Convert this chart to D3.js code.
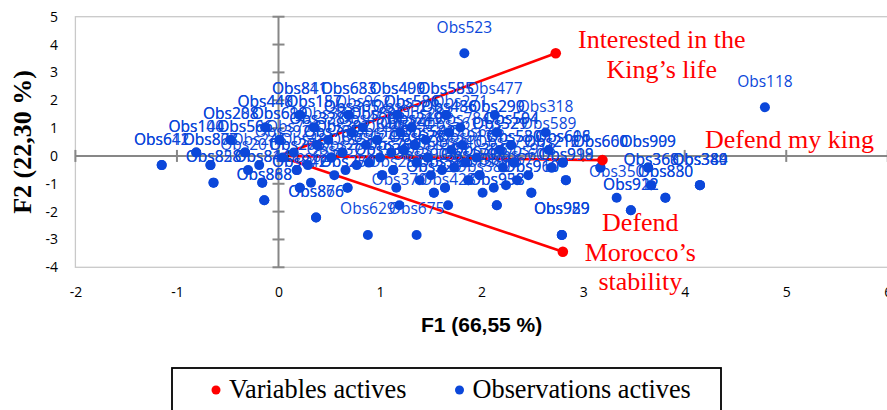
<!DOCTYPE html>
<html><head><meta charset="utf-8">
<script src="https://cdn.jsdelivr.net/npm/d3@7/dist/d3.min.js"></script>
<style>html,body{margin:0;padding:0;background:#fff;}svg{display:block;}</style>
</head><body>
<svg id="chart" width="887" height="410"></svg>
<script>
// ---------- data ----------
const xTicks = [-2, -1, 0, 1, 2, 3, 4, 5, 6];
const yTicks = [-4, -3, -2, -1, 0, 1, 2, 3, 4, 5];
const xTitle = "F1 (66,55 %)";
const yTitle = "F2 (22,30 %)";
const legendLabels = ["Variables actives", "Observations actives"];

const varNames = [["Interested in the", "King’s life"], ["Defend my king"], ["Defend", "Morocco’s", "stability"]];
const varF1 = [2.73, 3.19, 2.80];
const varF2 = [3.69, -0.15, -3.44];

const obsNames = [
  "Obs641","Obs612","Obs803","Obs877","Obs245","Obs481","Obs517","Obs104","Obs140","Obs566",
  "Obs506","Obs733","Obs302","Obs382","Obs451","Obs208","Obs288","Obs619","Obs699","Obs374",
  "Obs825","Obs805","Obs293","Obs440","Obs448","Obs157","Obs187","Obs962","Obs536","Obs586",
  "Obs271","Obs811","Obs841","Obs633","Obs683","Obs409","Obs490","Obs585","Obs555","Obs477",
  "Obs828","Obs858","Obs814","Obs844","Obs627","Obs201","Obs276","Obs206","Obs254","Obs709",
  "Obs799","Obs163","Obs392","Obs735","Obs765","Obs180","Obs542","Obs592","Obs646","Obs328",
  "Obs338","Obs457","Obs219","Obs249","Obs784","Obs504","Obs594","Obs365","Obs305","Obs852",
  "Obs436","Obs486","Obs299","Obs290","Obs318",
  "Obs888","Obs868","Obs842","Obs872","Obs250","Obs270","Obs257","Obs326","Obs396","Obs916",
  "Obs337","Obs930","Obs932","Obs150","Obs356","Obs386","Obs918","Obs124","Obs678","Obs628",
  "Obs913","Obs530","Obs580","Obs616","Obs608","Obs24","Obs224","Obs561","Obs529","Obs521",
  "Obs589",
  "Obs866","Obs876","Obs370","Obs423","Obs938","Obs958","Obs321","Obs329","Obs380","Obs910",
  "Obs960","Obs390","Obs170","Obs159","Obs560","Obs919","Obs998","Obs246","Obs579","Obs212",
  "Obs216","Obs600","Obs660","Obs999","Obs909",
  "Obs629","Obs675","Obs929","Obs959","Obs989","Obs922","Obs912","Obs350","Obs880","Obs830",
  "Obs967","Obs360","Obs368","Obs384","Obs340","Obs389","Obs523","Obs118"
];
const obsF1 = [
  -1.15,-1.15,-0.67,-0.67,-0.19,0.29,0.77,-0.81,-0.81,-0.33,
  -0.33,0.15,0.63,0.63,1.11,-0.47,-0.47,0.01,0.01,0.49,
  0.97,0.97,1.45,-0.13,-0.13,0.35,0.35,0.83,1.31,1.31,
  1.79,0.21,0.21,0.69,0.69,1.17,1.17,1.65,1.65,2.13,
  -0.64,-0.64,-0.16,-0.16,0.32,-0.30,0.18,0.18,0.66,1.13,
  1.13,1.61,0.04,0.52,0.52,1.00,1.47,1.47,1.95,0.38,
  0.38,0.86,1.34,1.34,1.81,2.29,2.29,0.72,0.72,1.20,
  1.68,1.68,2.15,2.15,2.63,
  -0.14,-0.14,0.21,0.21,0.68,0.68,1.16,1.64,1.64,2.12,
  0.55,1.02,1.02,1.50,1.98,1.98,2.46,0.89,1.36,1.36,
  1.84,2.32,2.32,2.80,2.80,1.23,1.23,1.70,2.18,2.18,
  2.66,
  0.37,0.37,1.19,1.67,2.15,2.15,1.53,1.53,2.01,2.49,
  2.49,1.39,1.87,1.87,2.35,2.83,2.83,1.73,2.21,2.69,
  2.69,3.17,3.17,3.64,3.64,
  0.88,1.36,2.79,2.79,2.79,3.47,3.47,3.33,3.81,3.81,
  2.24,3.67,3.67,4.15,4.15,4.15,1.83,4.79
];
const obsF2 = [
  -0.33,-0.33,-0.33,-0.33,-0.33,-0.33,-0.33,0.12,0.12,0.12,
  0.12,0.12,0.12,0.12,0.12,0.57,0.57,0.57,0.57,0.57,
  0.57,0.57,0.57,1.02,1.02,1.02,1.02,1.02,1.02,1.02,
  1.02,1.47,1.47,1.47,1.47,1.47,1.47,1.47,1.47,1.47,
  -0.96,-0.96,-0.96,-0.96,-0.96,-0.51,-0.51,-0.51,-0.51,-0.51,
  -0.51,-0.51,-0.06,-0.06,-0.06,-0.06,-0.06,-0.06,-0.06,0.39,
  0.39,0.39,0.39,0.39,0.39,0.39,0.39,0.84,0.84,0.84,
  0.84,0.84,0.84,0.84,0.84,
  -1.59,-1.59,-1.14,-1.14,-1.14,-1.14,-1.14,-1.14,-1.14,-1.14,
  -0.69,-0.69,-0.69,-0.69,-0.69,-0.69,-0.69,-0.24,-0.24,-0.24,
  -0.24,-0.24,-0.24,-0.24,-0.24,0.21,0.21,0.21,0.21,0.21,
  0.21,
  -2.21,-2.21,-1.77,-1.77,-1.77,-1.77,-1.32,-1.32,-1.32,-1.32,
  -1.32,-0.87,-0.87,-0.87,-0.87,-0.87,-0.87,-0.42,-0.42,-0.42,
  -0.42,-0.42,-0.42,-0.42,-0.42,
  -2.84,-2.84,-2.84,-2.84,-2.84,-1.95,-1.95,-1.50,-1.50,-1.50,
  -1.05,-1.05,-1.05,-1.05,-1.05,-1.05,3.69,1.75
];

// ---------- layout / style ----------
const BLUE = "#0b47da", RED = "#ff0000";
const SANS = "'Open Sans', 'DejaVu Sans', sans-serif";
const SERIF = "'Liberation Serif', 'Times New Roman', serif";
// label offsets for the variable texts (relative to point, px): [dx, [dy per line]]
const varLabelOffsets = [[106, [-5, 25]], [187, [-11.7]], [77.5, [-20.7, 9.3, 38.3]]];

const svg = d3.select("#chart");
const x = d3.scaleLinear().domain([-2, 6]).range([75.4, 887.8]);
const y = d3.scaleLinear().domain([-4, 5]).range([267.3, 16.7]);

// plot frame
svg.append("rect")
  .attr("x", x(-2)).attr("y", y(5))
  .attr("width", x(6) - x(-2)).attr("height", y(-4) - y(5))
  .attr("fill", "none").attr("stroke", "#c9c9c9").attr("stroke-width", 1.3);

// axes through the origin with crossing ticks
const axG = svg.append("g").attr("stroke", "#878787").attr("stroke-width", 2);
axG.append("line").attr("x1", x(-2)).attr("x2", x(6)).attr("y1", y(0)).attr("y2", y(0));
axG.append("line").attr("x1", x(0)).attr("x2", x(0)).attr("y1", y(5)).attr("y2", y(-4));
axG.selectAll(".xt").data(xTicks).join("line")
  .attr("x1", d => x(d)).attr("x2", d => x(d)).attr("y1", y(0) - 6).attr("y2", y(0) + 6);
axG.selectAll(".yt").data(yTicks).join("line")
  .attr("y1", d => y(d)).attr("y2", d => y(d)).attr("x1", x(0) - 6).attr("x2", x(0) + 6);

// tick labels via d3 axes (at the frame edges)
const xAx = svg.append("g").attr("transform", `translate(0,${y(-4)})`)
  .call(d3.axisBottom(x).tickValues(xTicks).tickSize(0).tickPadding(20).tickFormat(d => String(d)));
const yAx = svg.append("g").attr("transform", `translate(${x(-2)},0)`)
  .call(d3.axisLeft(y).tickValues(yTicks).tickSize(0).tickPadding(17.5).tickFormat(d => String(d)));
[xAx, yAx].forEach(g => {
  g.select(".domain").remove();
  g.selectAll("text").attr("font-family", SANS).attr("font-size", 14).attr("fill", "#000");
});

// variable vectors
svg.append("g").selectAll("line").data(varF1).join("line")
  .attr("x1", x(0)).attr("y1", y(0))
  .attr("x2", (d, i) => x(varF1[i])).attr("y2", (d, i) => y(varF2[i]))
  .attr("stroke", RED).attr("stroke-width", 2.6);

// observations
const obs = obsNames.map((n, i) => ({ n, f1: obsF1[i], f2: obsF2[i] }));
svg.append("g").selectAll("circle").data(obs).join("circle")
  .attr("cx", d => x(d.f1)).attr("cy", d => y(d.f2)).attr("r", 5).attr("fill", BLUE);
svg.append("g").selectAll("text").data(obs).join("text")
  .attr("x", d => x(d.f1)).attr("y", d => y(d.f2) - 20.6)
  .attr("text-anchor", "middle").attr("font-family", SANS).attr("font-size", 15.5)
  .attr("fill", BLUE).text(d => d.n);

// variable points and labels
svg.append("g").selectAll("circle").data(varF1).join("circle")
  .attr("cx", (d, i) => x(varF1[i])).attr("cy", (d, i) => y(varF2[i])).attr("r", 5.3).attr("fill", RED);
varNames.forEach((lines, i) => {
  const [dx, dys] = varLabelOffsets[i];
  lines.forEach((t, j) => {
    svg.append("text")
      .attr("x", x(varF1[i]) + dx).attr("y", y(varF2[i]) + dys[j])
      .attr("text-anchor", "middle").attr("font-family", SERIF).attr("font-size", 26)
      .attr("fill", RED).text(t);
  });
});

// axis titles
svg.append("text").attr("x", (x(-2) + x(6)) / 2).attr("y", 331.7)
  .attr("text-anchor", "middle").attr("font-family", "'Liberation Sans', Arial, sans-serif")
  .attr("font-weight", "bold").attr("font-size", 21).text(xTitle);
svg.append("text").attr("transform", `translate(31,${(y(5) + y(-4)) / 2}) rotate(-90)`)
  .attr("text-anchor", "middle").attr("font-family", SERIF)
  .attr("font-weight", "bold").attr("font-size", 26).text(yTitle);

// legend
const lg = svg.append("g");
lg.append("rect").attr("x", 172).attr("y", 368).attr("width", 549).attr("height", 60)
  .attr("fill", "#fff").attr("stroke", "#000").attr("stroke-width", 1.8);
const lgX = [216, 459.5], lgCol = [RED, BLUE];
legendLabels.forEach((t, i) => {
  lg.append("circle").attr("cx", lgX[i]).attr("cy", 390).attr("r", 4.5).attr("fill", lgCol[i]);
  lg.append("text").attr("x", lgX[i] + 13).attr("y", 398).attr("font-family", SERIF)
    .attr("font-size", 26.3).attr("fill", "#000").text(t);
});
</script>
</body></html>
